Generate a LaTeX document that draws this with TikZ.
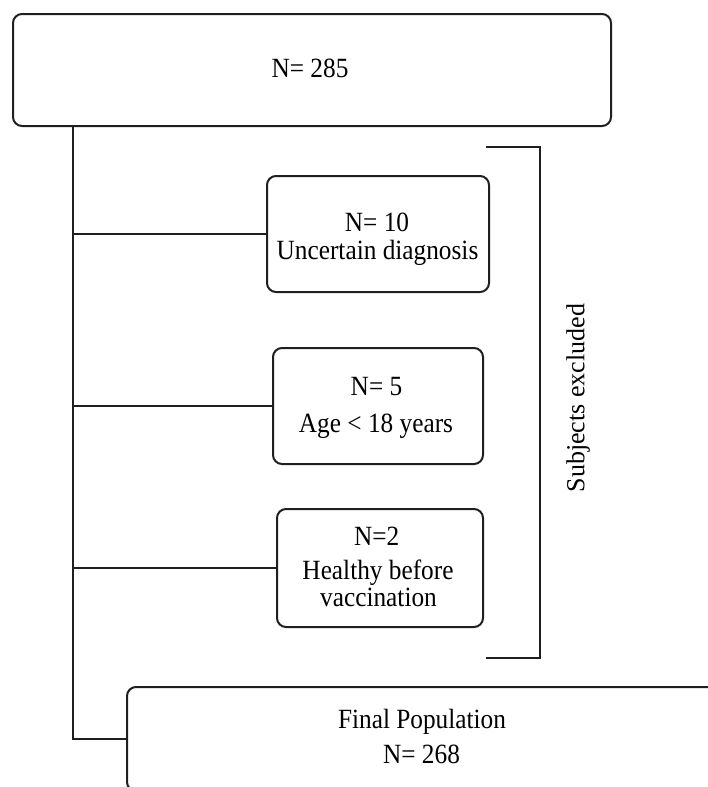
\documentclass[tikz,border=0pt]{standalone}
\usepackage{graphicx}
\usepackage{fontspec}
\setmainfont{Liberation Serif}
\newcommand{\stx}[1]{\scalebox{1}[1.1]{#1}}
\begin{document}
\begin{tikzpicture}[x=1pt,y=-1pt,
  box/.style={draw=black!88, line width=2pt, rounded corners=9pt, inner sep=0pt},
  txt/.style={anchor=base, inner sep=0pt, font=\fontsize{25.3}{24}\selectfont},
  conn/.style={draw=black!88, line width=2pt}]
\useasboundingbox (0,0) rectangle (707,787);
% boxes
\node[box, minimum width=598pt, minimum height=112pt] (top) at (312,70) {};
\node[box, minimum width=222pt, minimum height=116pt] (b1) at (378,234) {};
\node[box, minimum width=210pt, minimum height=116pt] (b2) at (378,406) {};
\node[box, minimum width=206pt, minimum height=118pt] (b3) at (380,568) {};
\node[box, minimum width=590pt, minimum height=104pt] (fin) at (422,739) {};
% texts
\node[txt] (topt) at (310,77) {\stx{N= 285}};
\node[txt] (b1a) at (377,231.7) {\stx{N= 10}};
\node[txt] (b1b) at (377.5,259.5) {\stx{Uncertain diagnosis}};
\node[txt] (b2a) at (376.5,395) {\stx{N= 5}};
\node[txt] (b2b) at (376,432) {\stx{Age < 18 years}};
\node[txt] (b3a) at (376.7,545.7) {\stx{N=2}};
\node[txt] (b3b) at (378,579.5) {\stx{Healthy before}};
\node[txt] (b3c) at (378.5,606) {\stx{vaccination}};
\node[txt] (fina) at (422,728) {\stx{Final Population}};
\node[txt] (finb) at (421.5,763) {\stx{N= 268}};
% connectors
\coordinate (t0) at (73,126);
\draw[conn] (t0) |- (fin.west);
\draw[conn] (t0 |- b1.west) -- (b1.west);
\draw[conn] (t0 |- b2.west) -- (b2.west);
\draw[conn] (t0 |- b3.west) -- (b3.west);
% bracket
\coordinate (bt) at (486,147);
\coordinate (brt) at (540,147);
\coordinate (brb) at (540,658);
\coordinate (bb) at (486,658);
\draw[conn] (bt) -- (brt) -- (brb) -- (bb);
\node[rotate=90, font=\fontsize{26}{24}\selectfont, inner sep=0pt] (lab) at (578,398) {Subjects excluded};
\end{tikzpicture}
\end{document}
